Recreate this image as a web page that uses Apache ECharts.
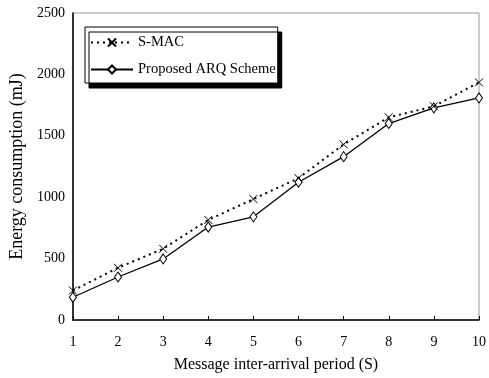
<!DOCTYPE html>
<html><head><meta charset="utf-8">
<script src="https://cdn.jsdelivr.net/npm/echarts@6/dist/echarts.min.js"></script>
<style>html,body{margin:0;padding:0;background:#fff}#c{width:489px;height:378px}</style>
</head><body><div id="c"></div>
<script>
const periods = [1,2,3,4,5,6,7,8,9,10];
const smac = [240, 425, 580, 815, 985, 1155, 1430, 1650, 1740, 1935];
const arq = [185, 350, 497, 757, 840, 1122, 1330, 1600, 1728, 1808];
const yTicks = [0, 500, 1000, 1500, 2000, 2500];
const seriesNames = ['S-MAC', 'Proposed ARQ Scheme'];

const font = 'Liberation Serif';
const chart = echarts.init(document.getElementById('c'));
chart.setOption({
  animation: false,
  grid: {left: 71, right: 7, top: 13, bottom: 58, show: true, borderColor: '#999', borderWidth: 1},
  xAxis: {
    type: 'value', min: 1, max: 10, interval: 1,
    name: 'Message inter-arrival period (S)', nameLocation: 'middle', nameGap: 37,
    nameTextStyle: {fontFamily: font, fontSize: 16, color: '#000'},
    axisLine: {lineStyle: {color: '#000', width: 1.5}},
    axisTick: {inside: true, length: 4, lineStyle: {color: '#000'}},
    axisLabel: {fontFamily: font, fontSize: 14, color: '#000', margin: 15},
    splitLine: {show: false}
  },
  yAxis: {
    type: 'value', min: yTicks[0], max: yTicks[yTicks.length-1], interval: 500,
    name: 'Energy consumption (mJ)', nameLocation: 'middle', nameGap: 45,
    nameTextStyle: {fontFamily: font, fontSize: 18, color: '#000'},
    axisLine: {show: true, lineStyle: {color: '#000', width: 1.5}},
    axisTick: {show: false},
    axisLabel: {fontFamily: font, fontSize: 14, color: '#000', margin: 8, formatter: v => String(v)},
    splitLine: {show: false}
  },
  legend: {
    orient: 'vertical', left: 85, top: 27,
    itemWidth: 42, itemHeight: 10, itemGap: 12,
    padding: [8, 2, 6, 5],
    backgroundColor: '#fff', borderColor: '#000', borderWidth: 1,
    shadowColor: '#000', shadowBlur: 0, shadowOffsetX: 4, shadowOffsetY: 5,
    textStyle: {fontFamily: font, fontSize: 14.5, color: '#000'},
    data: seriesNames
  },
  series: [
    {
      name: seriesNames[0], type: 'line',
      data: periods.map((p, i) => [p, smac[i]]),
      symbol: 'path://M0,0L10,10M10,0L0,10', symbolSize: [8, 8],
      itemStyle: {color: '#000', borderColor: '#000', borderWidth: 1},
      lineStyle: {color: '#000', width: 2, type: [2, 4]},
      z: 3
    },
    {
      name: seriesNames[1], type: 'line',
      data: periods.map((p, i) => [p, arq[i]]),
      symbol: 'diamond', symbolSize: [7, 10],
      itemStyle: {color: '#fff', borderColor: '#000', borderWidth: 1},
      lineStyle: {color: '#000', width: 1.3},
      z: 2
    }
  ]
});
</script></body></html>
